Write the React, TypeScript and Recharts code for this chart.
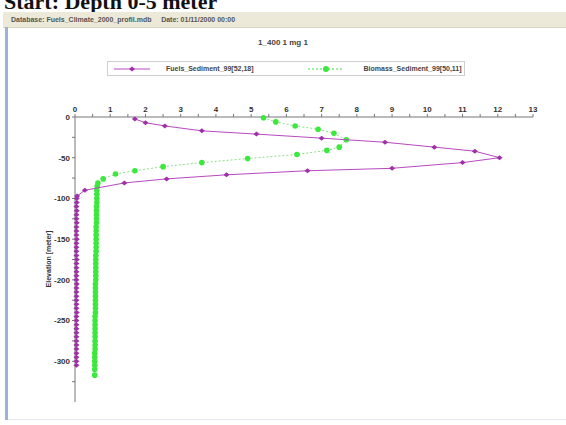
import { ScatterChart, Scatter, XAxis, YAxis } from "recharts";

// Fuels_Sediment profile: concentration vs depth
const fuelsValue = [
  1.7, 2.0, 2.55, 3.6, 5.15, 7.0, 8.8, 10.2, 11.35, 12.05, 11.0, 9.0, 6.6, 4.3, 2.6, 1.4, 0.28, 0.06,
  0.05, 0.05, 0.04, 0.05, 0.04, 0.04, 0.05, 0.04, 0.04, 0.04, 0.05, 0.04, 0.04, 0.04, 0.04, 0.05,
  0.04, 0.04, 0.04, 0.04, 0.04, 0.05, 0.04, 0.04, 0.04, 0.04, 0.04, 0.04, 0.05, 0.04, 0.04, 0.04,
  0.04, 0.04, 0.04, 0.04, 0.04, 0.04, 0.04, 0.04, 0.04, 0.04,
];
const fuelsDepth = [
  -2.5, -7, -11, -17, -21, -26, -31, -37, -42, -50, -56, -63, -66, -71, -76, -81, -90, -97,
  -100, -105, -110, -115, -120, -125, -130, -135, -140, -145, -150, -155, -160, -165, -170, -175,
  -180, -185, -190, -195, -200, -205, -210, -215, -220, -225, -230, -235, -240, -245, -250, -255,
  -260, -265, -270, -275, -280, -285, -290, -295, -300, -305,
];

// Biomass_Sediment profile
const biomassValue = [
  5.35, 5.7, 6.25, 6.9, 7.35, 7.7, 7.5, 7.15, 6.3, 4.9, 3.6, 2.5, 1.7, 1.15, 0.8, 0.65,
  0.63, 0.62, 0.62, 0.62, 0.62, 0.61, 0.61, 0.61, 0.61, 0.61, 0.6, 0.6, 0.6, 0.6, 0.6, 0.6,
  0.6, 0.59, 0.59, 0.59, 0.59, 0.59, 0.59, 0.59, 0.58, 0.58, 0.58, 0.58, 0.58, 0.58, 0.58,
  0.58, 0.57, 0.57, 0.57, 0.57, 0.57, 0.57, 0.57, 0.57, 0.57, 0.56, 0.56, 0.56, 0.56, 0.56, 0.56,
];
const biomassDepth = [
  -1, -6, -11, -15, -20, -28, -37, -41, -46, -51, -56, -61, -66, -70, -76, -81,
  -85, -90, -95, -100, -105, -110, -115, -120, -125, -130, -135, -140, -145, -150, -155, -160,
  -165, -170, -175, -180, -185, -190, -195, -200, -205, -210, -215, -220, -225, -230, -235,
  -240, -245, -250, -255, -260, -265, -270, -275, -280, -285, -290, -295, -300, -305, -310, -317,
];

const xTicks = [0, 0.5, 1, 1.5, 2, 2.5, 3, 3.5, 4, 4.5, 5, 5.5, 6, 6.5, 7, 7.5, 8, 8.5, 9, 9.5, 10, 10.5, 11, 11.5, 12, 12.5, 13];
const yTicks = [0, -25, -50, -75, -100, -125, -150, -175, -200, -225, -250, -275, -300, -325];

const seriesNames = ["Fuels_Sediment_99[52,18]", "Biomass_Sediment_99[50,11]"];

const fuels = fuelsValue.map((v, i) => ({ x: v, y: fuelsDepth[i] }));
const biomass = biomassValue.map((v, i) => ({ x: v, y: biomassDepth[i] }));

const MAGENTA = "#b848c0";
const GREEN = "#3ce83c";

function Diamond(props: any) {
  const { cx, cy } = props;
  if (cx == null || cy == null) return null;
  return (
    <path
      d={`M${cx - 3},${cy} L${cx},${cy - 2.5} L${cx + 3},${cy} L${cx},${cy + 2.5} Z`}
      fill="#a030a8"
    />
  );
}

function Dot(props: any) {
  const { cx, cy } = props;
  if (cx == null || cy == null) return null;
  return <circle cx={cx} cy={cy} r={2.8} fill={GREEN} />;
}

const tickStyle = { fontSize: 8, fontWeight: 700, fill: "#333", fontFamily: "Liberation Sans, Arial, sans-serif" };

export default function App() {
  return (
    <div
      style={{
        position: "absolute",
        left: 0,
        top: 0,
        width: 566,
        height: 425,
        overflow: "hidden",
        background: "#fff",
        fontFamily: "Liberation Sans, Arial, sans-serif",
      }}
    >
      <div
        style={{
          position: "absolute",
          left: 4,
          top: -10,
          fontFamily: "Liberation Serif, serif",
          fontWeight: 700,
          fontSize: 22,
          lineHeight: "24px",
          color: "#111",
          whiteSpace: "nowrap",
        }}
      >
        Start: Depth 0-5 meter
      </div>
      <div
        style={{
          position: "absolute",
          left: 3,
          top: 12,
          width: 563,
          height: 15,
          background: "#ece9d8",
          borderBottom: "1px solid #d8d4c0",
          fontSize: 7,
          fontWeight: 700,
          color: "#555",
          lineHeight: "15px",
          paddingLeft: 8,
          whiteSpace: "nowrap",
        }}
      >
        Database: Fuels_Climate_2000_profil.mdb &nbsp;&nbsp;&nbsp; Date: 01/11/2000 00:00
      </div>
      <div style={{ position: "absolute", left: 5, top: 27, width: 3, height: 393, background: "#9fb0dc" }} />
      <div style={{ position: "absolute", left: 8, top: 419, width: 558, height: 1, background: "#e6e6f0" }} />
      <div
        style={{
          position: "absolute",
          left: 0,
          width: 566,
          top: 38,
          textAlign: "center",
          fontSize: 8,
          fontWeight: 700,
          color: "#444",
        }}
      >
        1_400 1 mg 1
      </div>
      <div
        style={{
          position: "absolute",
          left: 107,
          top: 61,
          width: 358,
          height: 15,
          border: "1px solid #cfcfcf",
          boxSizing: "border-box",
          display: "flex",
          alignItems: "center",
          fontSize: 7,
          fontWeight: 700,
          color: "#444",
          whiteSpace: "nowrap",
        }}
      >
        <svg width={40} height={10} style={{ marginLeft: 4 }}>
          <line x1={2} y1={5} x2={38} y2={5} stroke={MAGENTA} strokeWidth={1} />
          <path d="M17,5 L20,2.5 L23,5 L20,7.5 Z" fill="#a030a8" />
        </svg>
        <span style={{ marginLeft: 14 }}>{seriesNames[0]}</span>
        <svg width={40} height={10} style={{ marginLeft: 52 }}>
          <line x1={2} y1={5} x2={38} y2={5} stroke={GREEN} strokeWidth={1} strokeDasharray="2 2" />
          <circle cx={20} cy={5} r={3} fill={GREEN} />
        </svg>
        <span style={{ marginLeft: 18 }}>{seriesNames[1]}</span>
      </div>
      <div
        style={{
          position: "absolute",
          left: 48,
          top: 259,
          transform: "translate(-50%, -50%) rotate(-90deg)",
          fontSize: 7,
          fontWeight: 700,
          color: "#333",
          whiteSpace: "nowrap",
        }}
      >
        Elevation [meter]
      </div>
      <div style={{ position: "absolute", left: 0, top: 0 }}>
        <ScatterChart width={566} height={425} margin={{ top: 97, right: 33, bottom: 23, left: 45 }}>
          <XAxis
            xAxisId="top"
            type="number"
            dataKey="x"
            orientation="top"
            domain={[0, 13]}
            ticks={xTicks}
            interval={0}
            height={20}
            tick={tickStyle}
            tickSize={3}
            tickFormatter={(v: number) => (Number.isInteger(v) ? String(v) : "")}
            axisLine={{ stroke: "#777" }}
            tickLine={{ stroke: "#777" }}
          />
          <XAxis
            xAxisId="bottom"
            type="number"
            dataKey="x"
            orientation="bottom"
            domain={[0, 13]}
            height={0}
            tick={false}
            tickLine={false}
            axisLine={{ stroke: "#888" }}
          />
          <YAxis
            yAxisId="left"
            type="number"
            dataKey="y"
            domain={[-350, 0]}
            ticks={yTicks}
            interval={0}
            width={30}
            tick={tickStyle}
            tickSize={3}
            tickFormatter={(v: number) => (v % 50 === 0 ? String(v) : "")}
            axisLine={{ stroke: "#777" }}
            tickLine={{ stroke: "#777" }}
          />
          <YAxis
            yAxisId="right"
            type="number"
            dataKey="y"
            orientation="right"
            domain={[-350, 0]}
            width={0}
            tick={false}
            tickLine={false}
            axisLine={{ stroke: "#888" }}
          />
          <Scatter
            name={seriesNames[1]}
            data={biomass}
            xAxisId="top"
            yAxisId="left"
            line={{ stroke: "#8de08d", strokeWidth: 1, strokeDasharray: "2 2" }}
            shape={<Dot />}
            isAnimationActive={false}
          />
          <Scatter
            name={seriesNames[0]}
            data={fuels}
            xAxisId="top"
            yAxisId="left"
            line={{ stroke: MAGENTA, strokeWidth: 1 }}
            shape={<Diamond />}
            isAnimationActive={false}
          />
        </ScatterChart>
      </div>
    </div>
  );
}
